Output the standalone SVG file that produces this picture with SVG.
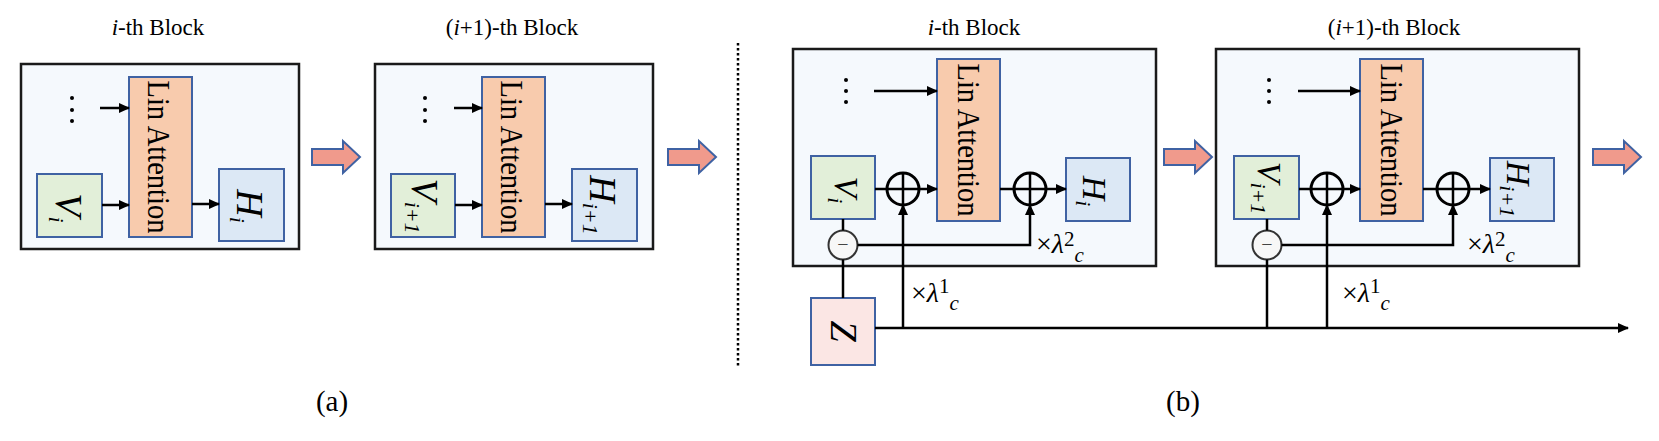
<svg xmlns="http://www.w3.org/2000/svg" width="1659" height="441" viewBox="0 0 1659 441">
<style>
.t{font-family:"Liberation Serif","Times New Roman",serif;fill:#000}
.ttl{font-size:23px}
.it{font-style:italic}
.cap{font-size:29px}
.outer{fill:#f5f9fd;stroke:#1a1a1a;stroke-width:2.5}
.la{fill:#f8cbad;stroke:#3f62a3;stroke-width:2}
.v{fill:#e2efd9;stroke:#3f62a3;stroke-width:2}
.h{fill:#dce8f5;stroke:#3f62a3;stroke-width:2}
.z{fill:#fbe6e4;stroke:#3f62a3;stroke-width:2}
.fat{fill:#f09a8c;stroke:#3f62a3;stroke-width:2;stroke-linejoin:miter}
.conn{stroke:#000;stroke-width:2.5;fill:none}
.arr{stroke:#000;stroke-width:2.5;fill:none;marker-end:url(#ah)}
.plus{stroke:#000;stroke-width:3;fill:none}
.minus{stroke:#333;stroke-width:2;fill:#f7f7f7}
.dot{fill:#000}
.latxt{font-size:31px}
.var{font-size:38px;font-style:italic}
.varb{font-size:34px;font-style:italic}
.sub{font-size:22px;font-style:italic}
.lam{font-size:28px}
.lsup{font-size:21px}
</style>
<defs>
<marker id="ah" markerWidth="11" markerHeight="10" refX="10" refY="5" orient="auto" markerUnits="userSpaceOnUse">
<path d="M0,0 L11,5 L0,10 z" fill="#000"/>
</marker>
</defs>

<!-- ===== (a) ===== -->
<text class="t ttl" x="158" y="35" text-anchor="middle"><tspan class="it">i</tspan>-th Block</text>
<text class="t ttl" x="512" y="35" text-anchor="middle">(<tspan class="it">i</tspan>+1)-th Block</text>

<g id="a-block1">
<rect class="outer" x="21" y="64" width="278" height="185"/>
<g id="a-b1-dots"><circle class="dot" cx="72" cy="98" r="2"/><circle class="dot" cx="72" cy="110" r="2"/><circle class="dot" cx="72" cy="121" r="2"/></g>
</g>
<g id="a-b1-la"><rect class="la" x="129" y="77" width="63" height="160"/>
<text class="t latxt" transform="translate(148,157) rotate(90)" text-anchor="middle" textLength="153" lengthAdjust="spacingAndGlyphs">Lin Attention</text></g>
<g id="a-b1-v"><rect class="v" x="37" y="174" width="65" height="63"/>
<text class="t var" transform="translate(56,208) rotate(90)" text-anchor="middle">V<tspan class="sub" dy="7">i</tspan></text></g>
<g id="a-b1-h"><rect class="h" x="219" y="169" width="65" height="72"/>
<text class="t var" transform="translate(237,206) rotate(90)" text-anchor="middle">H<tspan class="sub" dy="7">i</tspan></text></g>

<g id="a-block2">
<rect class="outer" x="375" y="64" width="278" height="185"/>
<g id="a-b2-dots"><circle class="dot" cx="425" cy="98" r="2"/><circle class="dot" cx="425" cy="110" r="2"/><circle class="dot" cx="425" cy="121" r="2"/></g>
</g>
<g id="a-b2-la"><rect class="la" x="482" y="77" width="63" height="160"/>
<text class="t latxt" transform="translate(501,157) rotate(90)" text-anchor="middle" textLength="153" lengthAdjust="spacingAndGlyphs">Lin Attention</text></g>
<g id="a-b2-v"><rect class="v" x="391" y="174" width="64" height="63"/>
<text class="t var" transform="translate(412,206) rotate(90)" text-anchor="middle">V<tspan class="sub" dy="7">i+1</tspan></text></g>
<g id="a-b2-h"><rect class="h" x="572" y="169" width="65" height="72"/>
<text class="t var" transform="translate(590,205) rotate(90)" text-anchor="middle">H<tspan class="sub" dy="7">i+1</tspan></text></g>

<g id="a-fat1"><polygon class="fat" points="312,149 343,149 343,141 360,157 343,173 343,165 312,165"/></g>
<g id="a-fat2"><polygon class="fat" points="668,149 699,149 699,141 716,157 699,173 699,165 668,165"/></g>

<text class="t cap" x="332" y="411" text-anchor="middle">(a)</text>

<!-- separator -->
<line x1="738" y1="43" x2="738" y2="368" stroke="#000" stroke-width="2.5" stroke-dasharray="2.5 2.5"/>

<!-- ===== (b) ===== -->
<text class="t ttl" x="974" y="35" text-anchor="middle"><tspan class="it">i</tspan>-th Block</text>
<text class="t ttl" x="1394" y="35" text-anchor="middle">(<tspan class="it">i</tspan>+1)-th Block</text>

<g id="b-block1">
<rect class="outer" x="793" y="49" width="363" height="217"/>
<g id="b-b1-dots"><circle class="dot" cx="846" cy="80" r="2"/><circle class="dot" cx="846" cy="91" r="2"/><circle class="dot" cx="846" cy="102" r="2"/></g>
</g>
<g id="b-b1-la"><rect class="la" x="937" y="59" width="63" height="162"/>
<text class="t latxt" transform="translate(958,140) rotate(90)" text-anchor="middle" textLength="153" lengthAdjust="spacingAndGlyphs">Lin Attention</text></g>
<g id="b-b1-v"><rect class="v" x="811" y="156" width="64" height="63"/>
<text class="t varb" transform="translate(835,190) rotate(90)" text-anchor="middle">V<tspan class="sub" dy="7">i</tspan></text></g>
<g id="b-b1-h"><rect class="h" x="1066" y="158" width="64" height="63"/>
<text class="t varb" transform="translate(1083,191) rotate(90)" text-anchor="middle">H<tspan class="sub" dy="7">i</tspan></text></g>
<g id="b-b1-plus1"><circle class="plus" cx="903" cy="189" r="16"/></g>
<g id="b-b1-plus2"><circle class="plus" cx="1030" cy="189" r="16"/></g>
<g id="b-b1-minus"><circle class="minus" cx="843" cy="245" r="14.5"/>
<text class="t" x="843" y="251" font-size="20" text-anchor="middle" style="fill:#444">−</text></g>

<g id="b-block2">
<rect class="outer" x="1216" y="49" width="363" height="217"/>
<g id="b-b2-dots"><circle class="dot" cx="1269" cy="80" r="2"/><circle class="dot" cx="1269" cy="91" r="2"/><circle class="dot" cx="1269" cy="102" r="2"/></g>
</g>
<g id="b-b2-la"><rect class="la" x="1360" y="59" width="63" height="162"/>
<text class="t latxt" transform="translate(1381,140) rotate(90)" text-anchor="middle" textLength="153" lengthAdjust="spacingAndGlyphs">Lin Attention</text></g>
<g id="b-b2-v"><rect class="v" x="1234" y="156" width="65" height="63"/>
<text class="t varb" transform="translate(1258,188) rotate(90)" text-anchor="middle">V<tspan class="sub" dy="7">i+1</tspan></text></g>
<g id="b-b2-h"><rect class="h" x="1490" y="158" width="64" height="63"/>
<text class="t varb" transform="translate(1507,189) rotate(90)" text-anchor="middle">H<tspan class="sub" dy="7">i+1</tspan></text></g>
<g id="b-b2-plus1"><circle class="plus" cx="1327" cy="189" r="16"/></g>
<g id="b-b2-plus2"><circle class="plus" cx="1453" cy="189" r="16"/></g>
<g id="b-b2-minus"><circle class="minus" cx="1267" cy="245" r="14.5"/>
<text class="t" x="1267" y="251" font-size="20" text-anchor="middle" style="fill:#444">−</text></g>

<g id="b-z"><rect class="z" x="811" y="298" width="64" height="67"/>
<text class="t var" transform="translate(831,331) rotate(90)" text-anchor="middle">Z</text></g>

<g id="b-fat1"><polygon class="fat" points="1164,149 1195,149 1195,141 1212,157 1195,173 1195,165 1164,165"/></g>
<g id="b-fat2"><polygon class="fat" points="1593,149 1624,149 1624,141 1641,157 1624,173 1624,165 1593,165"/></g>

<!-- lambda labels -->
<text class="t lam" x="1036" y="253">×<tspan class="it">λ</tspan><tspan class="lsup" dy="-7">2</tspan><tspan class="lsup it" dy="16">c</tspan></text>
<text class="t lam" x="911" y="302">×<tspan class="it">λ</tspan><tspan class="lsup" dy="-9">1</tspan><tspan class="lsup it" dy="17">c</tspan></text>
<text class="t lam" x="1467" y="253">×<tspan class="it">λ</tspan><tspan class="lsup" dy="-7">2</tspan><tspan class="lsup it" dy="16">c</tspan></text>
<text class="t lam" x="1342" y="302">×<tspan class="it">λ</tspan><tspan class="lsup" dy="-9">1</tspan><tspan class="lsup it" dy="17">c</tspan></text>

<text class="t cap" x="1183" y="411" text-anchor="middle">(b)</text>

<!-- ===== connectors ===== -->
<g id="connectors">
<!-- (a) -->
<line class="arr" x1="100" y1="108" x2="129" y2="108"/>
<line class="arr" x1="102" y1="205" x2="129" y2="205"/>
<line class="arr" x1="192" y1="204" x2="219" y2="204"/>
<line class="arr" x1="454" y1="108" x2="482" y2="108"/>
<line class="arr" x1="455" y1="205" x2="482" y2="205"/>
<line class="arr" x1="545" y1="204" x2="572" y2="204"/>
<!-- (b) block 1 -->
<line class="arr" x1="874" y1="91" x2="937" y2="91"/>
<line class="conn" x1="875" y1="189" x2="919" y2="189"/>
<line class="arr" x1="919" y1="189" x2="937" y2="189"/>
<line class="conn" x1="1000" y1="189" x2="1046" y2="189"/>
<line class="arr" x1="1046" y1="189" x2="1066" y2="189"/>
<line class="conn" x1="903" y1="173" x2="903" y2="205"/>
<line class="conn" x1="1030" y1="173" x2="1030" y2="205"/>
<line class="conn" x1="843" y1="219" x2="843" y2="230.5"/>
<line class="conn" x1="843" y1="259.5" x2="843" y2="298"/>
<polyline class="arr" points="857.5,245 1030,245 1030,205"/>
<line class="arr" x1="903" y1="328" x2="903" y2="205"/>
<line class="arr" x1="875" y1="328" x2="1628" y2="328"/>
<!-- (b) block 2 -->
<line class="arr" x1="1298" y1="91" x2="1360" y2="91"/>
<line class="conn" x1="1299" y1="189" x2="1343" y2="189"/>
<line class="arr" x1="1343" y1="189" x2="1360" y2="189"/>
<line class="conn" x1="1423" y1="189" x2="1469" y2="189"/>
<line class="arr" x1="1469" y1="189" x2="1490" y2="189"/>
<line class="conn" x1="1327" y1="173" x2="1327" y2="205"/>
<line class="conn" x1="1453" y1="173" x2="1453" y2="205"/>
<line class="conn" x1="1267" y1="219" x2="1267" y2="230.5"/>
<line class="conn" x1="1267" y1="259.5" x2="1267" y2="328"/>
<polyline class="arr" points="1281.5,245 1453,245 1453,205"/>
<line class="arr" x1="1327" y1="328" x2="1327" y2="205"/>
</g>
</svg>
